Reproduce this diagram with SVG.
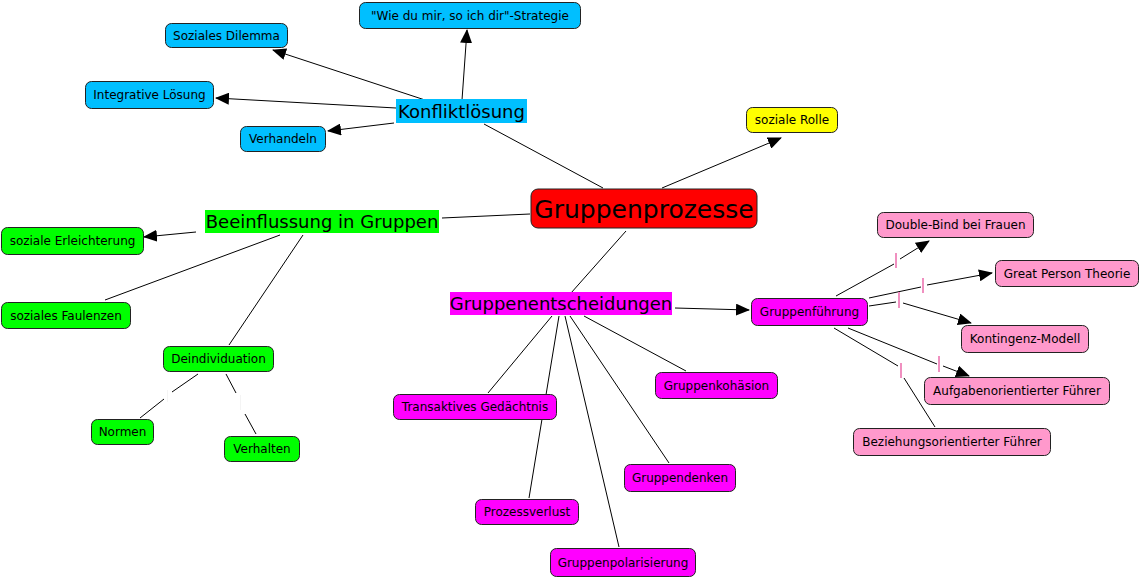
<svg xmlns="http://www.w3.org/2000/svg" width="1141" height="579" viewBox="0 0 1141 579">
<defs>
<style>
text{font-family:"DejaVu Sans",Verdana,sans-serif;fill:#000;text-anchor:middle}
.n text{font-size:12px}
.n rect{stroke:#222;stroke-width:1}
.c{fill:#00bfff}.g{fill:#00ff00}.m{fill:#ff00ff}.p{fill:#ff99cc}.y{fill:#ffff00}.r{fill:#ff0000}
.lbl text{font-size:18px}
#conn line,#conn path{stroke:#000;stroke-width:1;fill:none}
.a{marker-end:url(#arr)}
.tick{fill:#f090c0}
.wt{fill:#f4f4f4}
</style>
<marker id="arr" markerWidth="14" markerHeight="12" refX="13" refY="6" orient="auto" markerUnits="userSpaceOnUse">
<path d="M0,0 L14,6 L0,12 z" fill="#000"/>
</marker>
</defs>
<rect width="1141" height="579" fill="#fff"/>
<g id="conn">
<line class="a" x1="425" y1="100" x2="273" y2="50"/>
<line class="a" x1="462" y1="100" x2="467" y2="30"/>
<line class="a" x1="396" y1="108" x2="216" y2="98"/>
<line class="a" x1="394" y1="123" x2="328" y2="131"/>
<line x1="484" y1="124" x2="603" y2="188"/>
<line class="a" x1="662" y1="188" x2="781" y2="138"/>
<line x1="530" y1="214" x2="442" y2="218"/>
<line class="a" x1="196" y1="232" x2="144" y2="237"/>
<line x1="280" y1="235" x2="105" y2="300"/>
<line x1="303" y1="235" x2="229" y2="345"/>
<line x1="198" y1="374" x2="172" y2="392"/>
<line x1="164" y1="399" x2="140" y2="418"/>
<line x1="226" y1="374" x2="236" y2="393"/>
<line x1="245" y1="414" x2="256" y2="434"/>
<line x1="626" y1="231" x2="571" y2="293"/>
<line class="a" x1="675" y1="308" x2="749" y2="310"/>
<line x1="584" y1="316" x2="686" y2="371"/>
<line x1="552" y1="316" x2="488" y2="393"/>
<line x1="559" y1="316" x2="529" y2="498"/>
<line x1="565" y1="316" x2="619" y2="547"/>
<line x1="570" y1="316" x2="669" y2="463"/>
<line x1="836" y1="296" x2="894" y2="264"/>
<line class="a" x1="900" y1="259" x2="929" y2="241"/>
<line x1="869" y1="298" x2="921" y2="287"/>
<line class="a" x1="927" y1="285" x2="992" y2="273"/>
<line x1="869" y1="306" x2="896" y2="302"/>
<line class="a" x1="903" y1="303" x2="971" y2="323"/>
<line x1="848" y1="328" x2="937" y2="364"/>
<line class="a" x1="943" y1="366" x2="969" y2="376"/>
<line x1="834" y1="328" x2="898" y2="366"/>
<line x1="904" y1="378" x2="935" y2="427"/>
<rect class="tick" x="895" y="253" width="2" height="15"/>
<rect class="tick" x="922" y="278" width="2" height="15"/>
<rect class="tick" x="898" y="292" width="2" height="16"/>
<rect class="tick" x="900" y="363" width="2" height="15"/>
<rect class="tick" x="938" y="356" width="2" height="16"/>
<rect class="wt" x="167" y="390" width="1" height="12"/>
<rect class="wt" x="240" y="395" width="1" height="15"/>
</g>
<g id="n-konflikt" class="lbl"><rect class="c" x="396" y="99" width="131" height="24"/><text x="461.5" y="117.5">Konfliktlösung</text></g>
<g id="n-beeinfl" class="lbl"><rect class="g" x="205" y="210" width="234" height="23"/><text x="322" y="228">Beeinflussung in Gruppen</text></g>
<g id="n-entsch" class="lbl"><rect class="m" x="450" y="292" width="222" height="23"/><text x="561" y="310">Gruppenentscheidungen</text></g>
<g id="n-prozesse" class="n"><rect class="r" x="531" y="189" width="226" height="39" rx="7"/><text x="644" y="217.5" style="font-size:25px">Gruppenprozesse</text></g>
<g id="n-wiedu" class="n"><rect class="c" x="359.5" y="2.5" width="221" height="26" rx="6"/><text x="470" y="20">"Wie du mir, so ich dir"-Strategie</text></g>
<g id="n-dilemma" class="n"><rect class="c" x="165.5" y="23.5" width="122" height="24" rx="6"/><text x="226.5" y="39.5">Soziales Dilemma</text></g>
<g id="n-integrativ" class="n"><rect class="c" x="85.5" y="81.5" width="128" height="27" rx="6"/><text x="149.5" y="99">Integrative Lösung</text></g>
<g id="n-verhandeln" class="n"><rect class="c" x="240.5" y="126.5" width="85" height="25" rx="6"/><text x="283" y="143">Verhandeln</text></g>
<g id="n-rolle" class="n"><rect class="y" x="746.5" y="107.5" width="91" height="25" rx="6"/><text x="792" y="124">soziale Rolle</text></g>
<g id="n-erleicht" class="n"><rect class="g" x="1.5" y="227.5" width="142" height="27" rx="6"/><text x="72.5" y="245">soziale Erleichterung</text></g>
<g id="n-faulenzen" class="n"><rect class="g" x="1.5" y="302.5" width="129" height="26" rx="6"/><text x="66" y="319.5">soziales Faulenzen</text></g>
<g id="n-deind" class="n"><rect class="g" x="163.5" y="346.5" width="110" height="25" rx="6"/><text x="218.5" y="363">Deindividuation</text></g>
<g id="n-normen" class="n"><rect class="g" x="91.5" y="419.5" width="62" height="25" rx="6"/><text x="122.5" y="436">Normen</text></g>
<g id="n-verhalten" class="n"><rect class="g" x="224.5" y="436.5" width="75" height="25" rx="6"/><text x="262" y="453">Verhalten</text></g>
<g id="n-fuehrung" class="n"><rect class="m" x="751.5" y="298.5" width="116" height="27" rx="6"/><text x="809.5" y="316">Gruppenführung</text></g>
<g id="n-double" class="n"><rect class="p" x="877.5" y="212.5" width="156" height="25" rx="6"/><text x="955.5" y="229">Double-Bind bei Frauen</text></g>
<g id="n-great" class="n"><rect class="p" x="995.5" y="260.5" width="143" height="26" rx="6"/><text x="1067" y="277.5">Great Person Theorie</text></g>
<g id="n-kontingenz" class="n"><rect class="p" x="961.5" y="325.5" width="127" height="27" rx="6"/><text x="1025" y="343">Kontingenz-Modell</text></g>
<g id="n-aufgabe" class="n"><rect class="p" x="924.5" y="377.5" width="185" height="27" rx="6"/><text x="1017" y="395">Aufgabenorientierter Führer</text></g>
<g id="n-beziehung" class="n"><rect class="p" x="853.5" y="428.5" width="197" height="27" rx="6"/><text x="952" y="446">Beziehungsorientierter Führer</text></g>
<g id="n-kohaesion" class="n"><rect class="m" x="655.5" y="372.5" width="122" height="26" rx="6"/><text x="716.5" y="389.5">Gruppenkohäsion</text></g>
<g id="n-transakt" class="n"><rect class="m" x="393.5" y="394.5" width="163" height="25" rx="6"/><text x="475" y="411">Transaktives Gedächtnis</text></g>
<g id="n-denken" class="n"><rect class="m" x="624.5" y="464.5" width="111" height="27" rx="6"/><text x="680" y="482">Gruppendenken</text></g>
<g id="n-prozessv" class="n"><rect class="m" x="475.5" y="499.5" width="103" height="25" rx="6"/><text x="527" y="516">Prozessverlust</text></g>
<g id="n-polar" class="n"><rect class="m" x="550.5" y="548.5" width="145" height="28" rx="6"/><text x="623" y="566.5">Gruppenpolarisierung</text></g>
</svg>
